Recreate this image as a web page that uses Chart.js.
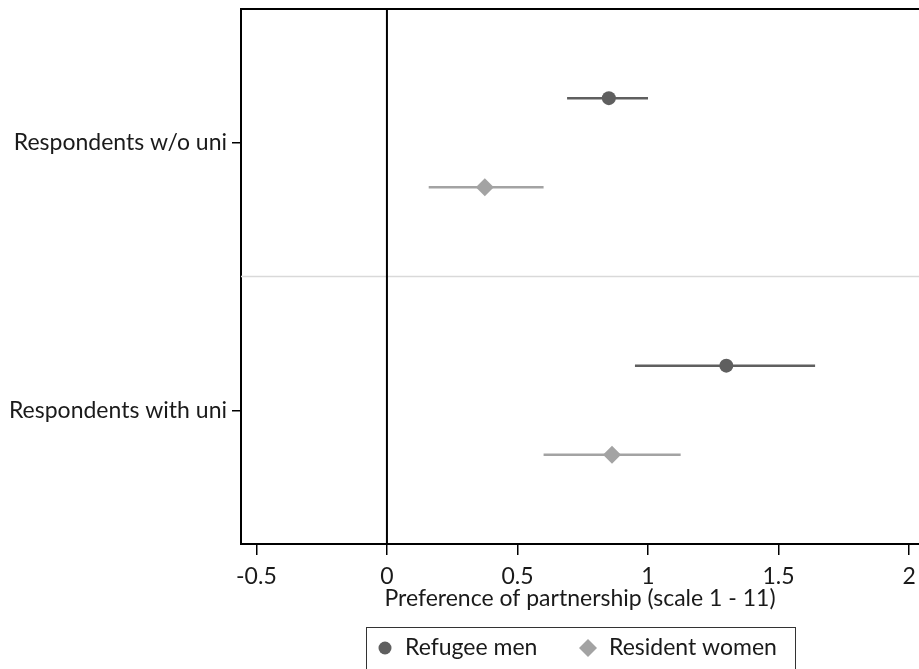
<!DOCTYPE html>
<html>
<head>
<meta charset="utf-8">
<script src="https://cdn.jsdelivr.net/npm/chart.js@4/dist/chart.umd.min.js"></script>
<style>
  html, body { margin: 0; padding: 0; background: #fff; overflow: hidden; }
  #wrap { width: 928px; height: 669px; }
</style>
</head>
<body>
<div id="wrap"><canvas id="chart-coef"></canvas></div>
<script>
'use strict';

// groups on the y axis (row centre positions in axis units, top = 0)
var groups = ['Respondents w/o uni', 'Respondents with uni'];
var groupPos = [1.5, 4.5];

// refugee men: estimate and 95% CI
var menEst = [0.85, 1.30];
var menLow = [0.69, 0.95];
var menHigh = [1.00, 1.64];

// resident women: estimate and 95% CI
var womenEst = [0.375, 0.862];
var womenLow = [0.16, 0.60];
var womenHigh = [0.60, 1.125];

var xTicks = [-0.5, 0, 0.5, 1, 1.5, 2];

var menColor = '#5f5f5f';
var womenColor = '#a3a3a3';
var fontFamily = 'Lato, "Open Sans", sans-serif';
var fontSize = 23;

var menPoints = groupPos.map(function(p, i) { return { x: menEst[i], y: p - 0.5 }; });
var womenPoints = groupPos.map(function(p, i) { return { x: womenEst[i], y: p + 0.5 }; });

var datasets = [{
        label: 'Refugee men',
        data: menPoints,
        pointStyle: 'circle',
        pointRadius: 7,
        backgroundColor: menColor,
        borderColor: menColor,
        borderWidth: 0
    },
    {
        label: 'Resident women',
        data: womenPoints,
        pointStyle: 'rectRot',
        pointRadius: 9,
        backgroundColor: womenColor,
        borderColor: womenColor,
        borderWidth: 0
    }
];

// confidence interval lines
groupPos.forEach(function(p, i) {
    datasets.push({
        label: 'ci',
        data: [{ x: menLow[i], y: p - 0.5 }, { x: menHigh[i], y: p - 0.5 }],
        showLine: true,
        pointRadius: 0,
        borderColor: menColor,
        borderWidth: 2.5
    });
    datasets.push({
        label: 'ci',
        data: [{ x: womenLow[i], y: p + 0.5 }, { x: womenHigh[i], y: p + 0.5 }],
        showLine: true,
        pointRadius: 0,
        borderColor: womenColor,
        borderWidth: 2.5
    });
});

var framePlugin = {
    id: 'frame',
    beforeDatasetsDraw: function(chart) {
        var ctx = chart.ctx;
        var area = chart.chartArea;
        var x = chart.scales.x;
        var y = chart.scales.y;
        ctx.save();
        // separator between groups
        ctx.strokeStyle = '#d9d9d9';
        ctx.lineWidth = 1.5;
        var ys = y.getPixelForValue(3);
        ctx.beginPath();
        ctx.moveTo(area.left, ys);
        ctx.lineTo(area.right, ys);
        ctx.stroke();
        // zero line
        ctx.strokeStyle = '#000';
        ctx.lineWidth = 2;
        var x0 = x.getPixelForValue(0);
        ctx.beginPath();
        ctx.moveTo(x0, area.top);
        ctx.lineTo(x0, area.bottom);
        ctx.stroke();
        // top border
        ctx.beginPath();
        ctx.moveTo(area.left - 1, area.top);
        ctx.lineTo(area.right, area.top);
        ctx.stroke();
        ctx.restore();
    },
    afterDraw: function(chart) {
        // legend box
        var ctx = chart.ctx;
        ctx.save();
        ctx.strokeStyle = '#333';
        ctx.lineWidth = 1;
        ctx.strokeRect(366.5, 627.5, 429, 60);
        var ly = 648;
        ctx.fillStyle = menColor;
        ctx.beginPath();
        ctx.arc(385, ly, 6.5, 0, Math.PI * 2);
        ctx.fill();
        ctx.fillStyle = womenColor;
        ctx.beginPath();
        ctx.moveTo(588, ly - 9);
        ctx.lineTo(597, ly);
        ctx.lineTo(588, ly + 9);
        ctx.lineTo(579, ly);
        ctx.closePath();
        ctx.fill();
        ctx.fillStyle = '#1a1a1a';
        ctx.font = fontSize + 'px ' + fontFamily;
        ctx.textBaseline = 'middle';
        ctx.fillText(datasets[0].label, 405, ly);
        ctx.fillText(datasets[1].label, 609, ly);
        ctx.restore();
    }
};

var ctx_coef = document.getElementById('chart-coef').getContext('2d');

var chart_coef = new Chart(ctx_coef, {
    type: 'scatter',
    data: { datasets: datasets },
    options: {
        responsive: true,
        maintainAspectRatio: false,
        animation: false,
        layout: { padding: { top: 7, right: 0, bottom: 0, left: 0 } },
        plugins: {
            legend: { display: false },
            tooltip: { enabled: false }
        },
        scales: {
            x: {
                type: 'linear',
                min: -0.559,
                max: 2.038,
                afterBuildTicks: function(scale) {
                    scale.ticks = xTicks.map(function(v) { return { value: v }; });
                },
                afterFit: function(scale) {
                    scale.height = 125;
                },
                grid: { drawOnChartArea: false, drawTicks: true, tickLength: 11, color: '#000', lineWidth: 1.5 },
                border: { display: true, color: '#000', width: 2 },
                ticks: {
                    color: '#1a1a1a',
                    font: { family: fontFamily, size: fontSize },
                    padding: 8,
                    maxRotation: 0,
                    autoSkip: false,
                    callback: function(v) { return String(v); }
                },
                title: {
                    display: true,
                    text: 'Preference of partnership (scale 1 - 11)',
                    color: '#1a1a1a',
                    font: { family: fontFamily, size: fontSize },
                    padding: { top: 0, bottom: 57 }
                }
            },
            y: {
                type: 'linear',
                min: 0,
                max: 6,
                reverse: true,
                afterBuildTicks: function(scale) {
                    scale.ticks = groupPos.map(function(v) { return { value: v }; });
                },
                afterFit: function(scale) {
                    scale.width = 241;
                    scale.paddingTop = 0;
                    scale.paddingBottom = 0;
                },
                grid: { drawOnChartArea: false, drawTicks: true, tickLength: 9, color: '#000', lineWidth: 1.5 },
                border: { display: true, color: '#000', width: 2 },
                ticks: {
                    color: '#1a1a1a',
                    font: { family: fontFamily, size: fontSize },
                    padding: 5,
                    autoSkip: false,
                    callback: function(v) { return groups[groupPos.indexOf(v)]; }
                }
            }
        }
    },
    plugins: [framePlugin]
});
</script>
</body>
</html>
